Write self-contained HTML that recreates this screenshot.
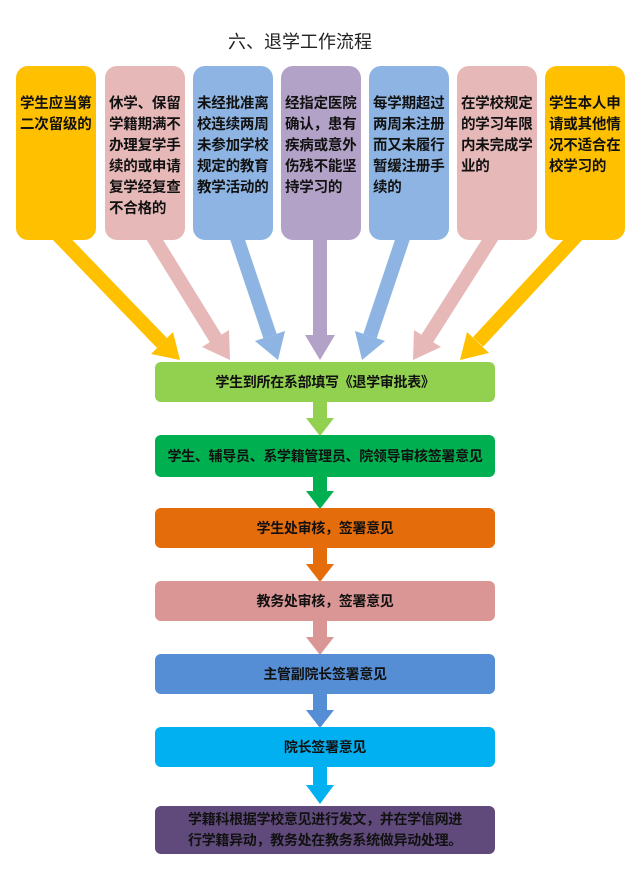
<!DOCTYPE html>
<html><head><meta charset="utf-8"><style>
body{margin:0;width:634px;height:885px;background:#fff;position:relative;overflow:hidden;font-family:"Liberation Sans","Noto Sans CJK SC",sans-serif}
.t{position:absolute;left:228px;top:28px;font-size:18px;color:#222}
.c{position:absolute;top:66px;width:80px;height:174px;border-radius:12px;box-sizing:border-box;padding:28px 0 0 4px;font-size:14.5px;line-height:21px;font-weight:bold;color:#111;letter-spacing:-0.2px}
.f{position:absolute;left:155px;width:340px;border-radius:6px;display:flex;align-items:center;justify-content:center;text-align:center;font-size:14px;font-weight:bold;color:#111;line-height:21px;letter-spacing:-0.3px;white-space:nowrap}
svg{position:absolute;left:0;top:0}
</style></head><body>
<div class="t">六、退学工作流程</div>
<svg width="634" height="885">
<g stroke-width="14">
<line x1="55" y1="232" x2="162" y2="343" stroke="#FFC000"/>
<polygon points="180,360 151,354 173,332" fill="#FFC000"/>
<line x1="150" y1="232" x2="216" y2="339" stroke="#E6B9B8"/>
<polygon points="230,360 202,347 229,330" fill="#E6B9B8"/>
<line x1="235" y1="232" x2="270" y2="336" stroke="#8DB4E2"/>
<polygon points="278,360 255,341 285,331" fill="#8DB4E2"/>
<line x1="320" y1="232" x2="320" y2="335" stroke="#B3A2C7"/>
<polygon points="320,360 305,335 335,335" fill="#B3A2C7"/>
<line x1="405" y1="232" x2="370" y2="336" stroke="#8DB4E2"/>
<polygon points="362,360 355,331 385,341" fill="#8DB4E2"/>
<line x1="495" y1="232" x2="427" y2="339" stroke="#E6B9B8"/>
<polygon points="413,360 414,330 441,347" fill="#E6B9B8"/>
<line x1="580" y1="232" x2="478" y2="342" stroke="#FFC000"/>
<polygon points="460,360 467,332 489,353" fill="#FFC000"/>
</g>
<g>
<rect x="313" y="400" width="14" height="20" fill="#92D050"/><polygon points="306,418 334,418 320,436" fill="#92D050"/>
<rect x="313" y="475" width="14" height="18" fill="#00B050"/><polygon points="306,491 334,491 320,509" fill="#00B050"/>
<rect x="313" y="546" width="14" height="20" fill="#E46C0A"/><polygon points="306,564 334,564 320,582" fill="#E46C0A"/>
<rect x="313" y="619" width="14" height="20" fill="#D99694"/><polygon points="306,637 334,637 320,655" fill="#D99694"/>
<rect x="313" y="692" width="14" height="20" fill="#558ED5"/><polygon points="306,710 334,710 320,728" fill="#558ED5"/>
<rect x="313" y="765" width="14" height="22" fill="#00B0F0"/><polygon points="306,785 334,785 320,804" fill="#00B0F0"/>
</g>
</svg>
<div class="c" style="left:16px;background:#FFC000">学生应当第二次留级的</div>
<div class="c" style="left:105px;background:#E6B9B8">休学、保留学籍期满不办理复学手续的或申请复学经复查不合格的</div>
<div class="c" style="left:193px;background:#8DB4E2">未经批准离校连续两周未参加学校规定的教育教学活动的</div>
<div class="c" style="left:281px;background:#B3A2C7">经指定医院确认，患有疾病或意外伤残不能坚持学习的</div>
<div class="c" style="left:369px;background:#8DB4E2">每学期超过两周未注册而又未履行暂缓注册手续的</div>
<div class="c" style="left:457px;background:#E6B9B8">在学校规定的学习年限内未完成学业的</div>
<div class="c" style="left:545px;background:#FFC000">学生本人申请或其他情况不适合在校学习的</div>
<div class="f" style="top:362px;height:40px;background:#92D050">学生到所在系部填写《退学审批表》</div>
<div class="f" style="top:435px;height:42px;background:#00B050">学生、辅导员、系学籍管理员、院领导审核签署意见</div>
<div class="f" style="top:508px;height:40px;background:#E46C0A">学生处审核，签署意见</div>
<div class="f" style="top:581px;height:40px;background:#D99694">教务处审核，签署意见</div>
<div class="f" style="top:654px;height:40px;background:#558ED5">主管副院长签署意见</div>
<div class="f" style="top:727px;height:40px;background:#00B0F0">院长签署意见</div>
<div class="f" style="top:806px;height:48px;background:#604A7B;flex-direction:column">学籍科根据学校意见进行发文，并在学信网进<br>行学籍异动，教务处在教务系统做异动处理。</div>
</body></html>
